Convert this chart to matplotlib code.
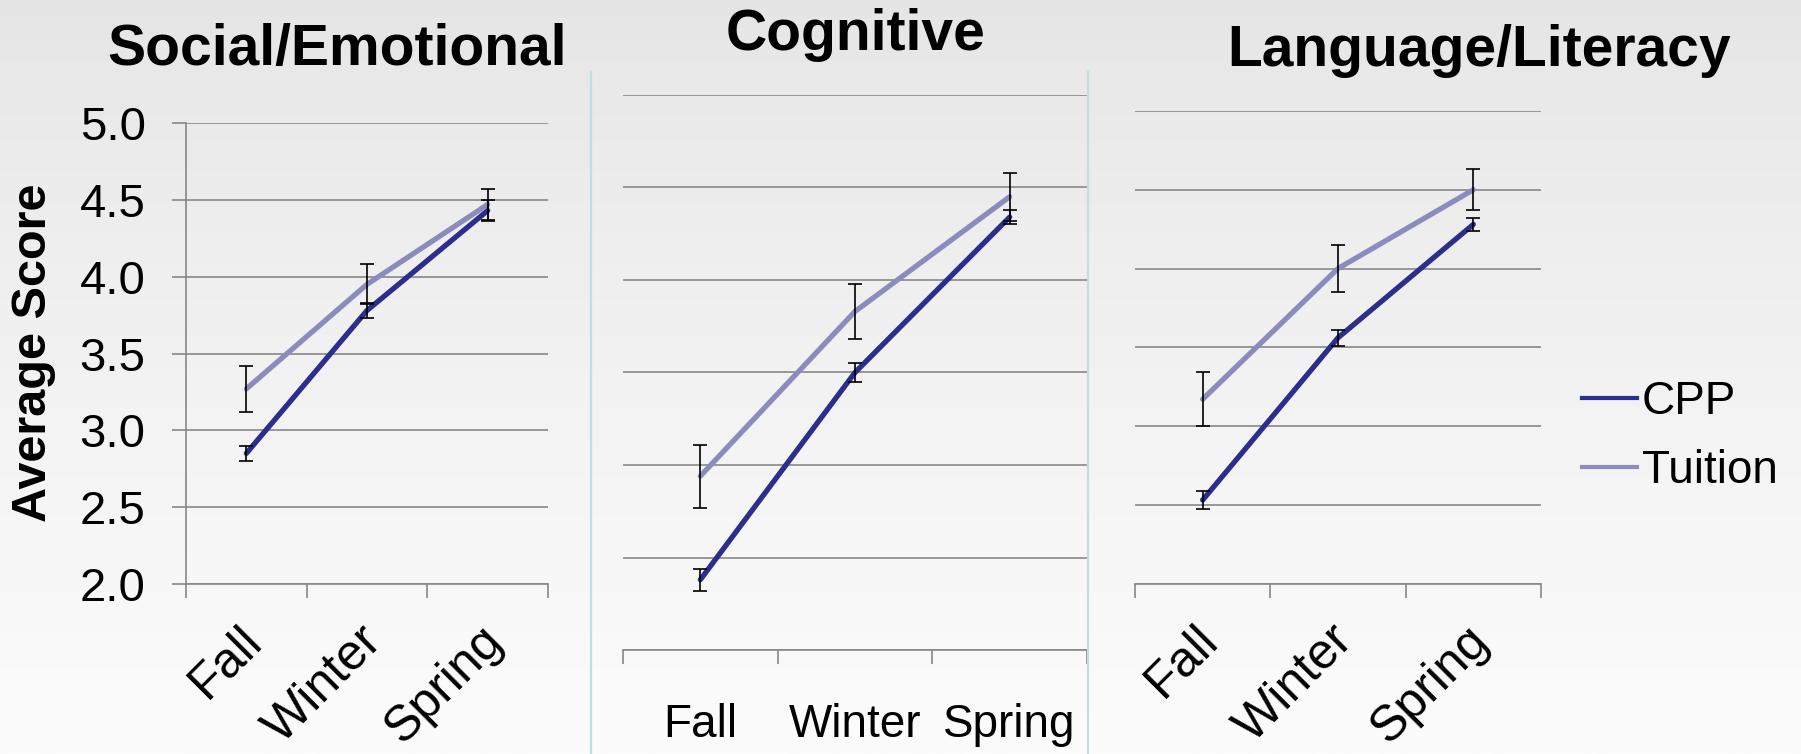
#!/usr/bin/env python3

import numpy as np
import matplotlib
matplotlib.use("Agg")
import matplotlib.pyplot as plt
import matplotlib.transforms as mtransforms
from matplotlib.lines import Line2D
from matplotlib.colors import LinearSegmentedColormap

plt.rcParams['font.family'] = ['Liberation Sans', 'DejaVu Sans']

W, H = 1801, 754

categories = ["Fall", "Winter", "Spring"]
series_names = ["CPP", "Tuition"]

social_cpp = [2.85, 3.78, 4.43]
social_cpp_err = [0.05, 0.05, 0.07]
social_tuition = [3.27, 3.95, 4.47]
social_tuition_err = [0.15, 0.13, 0.10]

cog_cpp = [2.38, 3.50, 4.34]
cog_cpp_err = [0.06, 0.05, 0.04]
cog_tuition = [2.94, 3.83, 4.45]
cog_tuition_err = [0.17, 0.15, 0.13]

lang_cpp = [2.53, 3.56, 4.28]
lang_cpp_err = [0.055, 0.05, 0.04]
lang_tuition = [3.17, 4.00, 4.50]
lang_tuition_err = [0.17, 0.15, 0.13]

y_ticks = [2.0, 2.5, 3.0, 3.5, 4.0, 4.5, 5.0]

CPP_COLOR = "#2B2E8C"
TUITION_COLOR = "#8B8BBE"
GRID_COLOR = "#888888"


def px_box(left, top, right, bottom):
    # pixel box -> figure fraction rect
    return [left / W, 1 - bottom / H, (right - left) / W, (bottom - top) / H]


fig = plt.figure(figsize=(W / 100, H / 100), dpi=100)

# background gradient
bg = fig.add_axes([0, 0, 1, 1], zorder=-10)
grad = np.linspace(0, 1, 256).reshape(-1, 1) ** 0.8
cmap = LinearSegmentedColormap.from_list("bg", ["#E5E5E5", "#FCFCFC"])
bg.imshow(grad, aspect="auto", cmap=cmap, extent=[0, 1, 0, 1])
bg.set_axis_off()


def draw_panel(rect, cpp, cpp_err, tuition, tuition_err, rotate, show_y):
    ax = fig.add_axes(rect)
    ax.set_facecolor("none")
    x = np.arange(len(categories))
    ax.plot(x, cpp, color=CPP_COLOR, lw=3.8, solid_capstyle="round", zorder=3)
    ax.plot(x, tuition, color=TUITION_COLOR, lw=3.8, solid_capstyle="round", zorder=3)
    ax.errorbar(x, cpp, yerr=cpp_err, fmt="none", ecolor="black",
                elinewidth=1.2, capsize=4.7, capthick=1.2, zorder=4)
    ax.errorbar(x, tuition, yerr=tuition_err, fmt="none", ecolor="black",
                elinewidth=1.2, capsize=4.7, capthick=1.2, zorder=4)
    ax.set_xlim(-0.5, len(categories) - 0.5)
    ax.set_ylim(2.0, 5.0)
    ax.set_yticks(y_ticks)
    ax.yaxis.grid(True, color=GRID_COLOR, lw=1.2)
    ax.set_axisbelow(True)
    for s in ["top", "right"]:
        ax.spines[s].set_visible(False)
    ax.spines["bottom"].set_color(GRID_COLOR)
    ax.spines["bottom"].set_linewidth(1.2)
    ax.spines["left"].set_color(GRID_COLOR)
    ax.spines["left"].set_linewidth(1.2)
    if show_y:
        ax.set_yticklabels(["%.1f" % v for v in y_ticks], fontsize=34)
        ax.tick_params(axis="y", length=10, width=1.2, color=GRID_COLOR, pad=19)
    else:
        ax.spines["left"].set_visible(False)
        ax.tick_params(axis="y", length=0, labelleft=False)
    ax.set_xticks(x)
    ax.set_xticks(np.arange(len(categories) + 1) - 0.5, minor=True)
    ax.tick_params(axis="x", which="minor", length=10, width=1.2, color=GRID_COLOR)
    if rotate:
        ax.set_xticklabels(categories, fontsize=36, rotation=45, ha="right",
                           va="top", rotation_mode="anchor")
        ax.tick_params(axis="x", which="major", length=0, pad=24)
        # nudge the slanted labels a little to the left
        shift = mtransforms.ScaledTranslation(-8 / 100, 0, fig.dpi_scale_trans)
        for lab in ax.get_xticklabels():
            lab.set_transform(lab.get_transform() + shift)
    else:
        ax.set_xticklabels(categories, fontsize=33)
        ax.tick_params(axis="x", which="major", length=0, pad=38)
    return ax


ax1 = draw_panel(px_box(186, 123, 548, 584), social_cpp, social_cpp_err,
                 social_tuition, social_tuition_err, True, True)
ax2 = draw_panel(px_box(623, 95, 1087, 650), cog_cpp, cog_cpp_err,
                 cog_tuition, cog_tuition_err, False, False)
ax3 = draw_panel(px_box(1135, 111, 1541, 583.5), lang_cpp, lang_cpp_err,
                 lang_tuition, lang_tuition_err, True, False)

# panel titles
fig.text(337.5 / W, 1 - 65 / H, "Social/Emotional", fontsize=41, weight="bold",
         ha="center", va="baseline")
fig.text(856 / W, 1 - 50.5 / H, "Cognitive", fontsize=41, weight="bold",
         ha="center", va="baseline")
fig.text(1479 / W, 1 - 65.5 / H, "Language/Literacy", fontsize=41, weight="bold",
         ha="center", va="baseline")

fig.text(34 / W, 1 - 353 / H, "Average Score", fontsize=35, weight="bold",
         rotation=90, ha="center", va="center")

# light cyan separators around the middle chart
for xs in [591, 1087.5]:
    fig.add_artist(Line2D([xs / W, xs / W], [0, 1 - 72 / H], color="#BFDFE3",
                          lw=1.6, transform=fig.transFigure))

handles = [Line2D([], [], color=CPP_COLOR, lw=3.0),
           Line2D([], [], color=TUITION_COLOR, lw=3.0)]
fig.legend(handles, series_names, loc="center left",
           bbox_to_anchor=(1582 / W, 1 - 436.4 / H), frameon=False,
           fontsize=33, handlelength=1.2, handletextpad=0.1,
           borderpad=0, borderaxespad=0, labelspacing=0.55)

fig.savefig("out.png", dpi=100)
